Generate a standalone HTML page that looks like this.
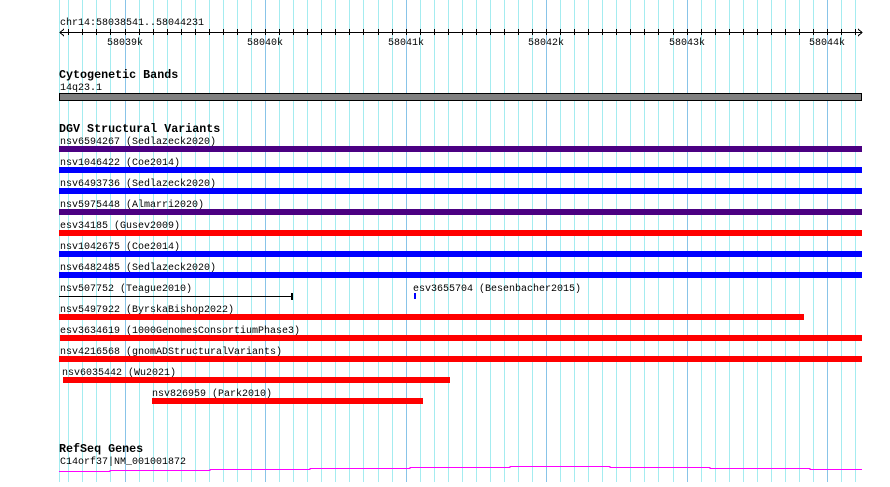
<!DOCTYPE html>
<html><head><style>
body{margin:0;background:#fff;}
svg text{font-family:"Liberation Mono","DejaVu Sans Mono",monospace;font-size:10px;fill:#000;}
svg text.b{font-weight:bold;font-size:11.7px;}
</style></head><body>
<svg width="890" height="482" xmlns="http://www.w3.org/2000/svg" shape-rendering="crispEdges">
<path stroke="#a4ecf0" stroke-width="1" fill="none" d="M59.5 0V482M68.5 0V482M82.5 0V482M96.5 0V482M110.5 0V482M139.5 0V482M153.5 0V482M167.5 0V482M181.5 0V482M195.5 0V482M209.5 0V482M223.5 0V482M237.5 0V482M251.5 0V482M279.5 0V482M293.5 0V482M307.5 0V482M321.5 0V482M335.5 0V482M349.5 0V482M363.5 0V482M378.5 0V482M392.5 0V482M420.5 0V482M434.5 0V482M448.5 0V482M462.5 0V482M476.5 0V482M490.5 0V482M504.5 0V482M518.5 0V482M532.5 0V482M560.5 0V482M574.5 0V482M588.5 0V482M602.5 0V482M616.5 0V482M630.5 0V482M644.5 0V482M658.5 0V482M673.5 0V482M701.5 0V482M715.5 0V482M729.5 0V482M743.5 0V482M757.5 0V482M771.5 0V482M785.5 0V482M799.5 0V482M813.5 0V482M841.5 0V482M855.5 0V482"/>
<path stroke="#88c4e8" stroke-width="1" fill="none" d="M125.5 0V482M265.5 0V482M406.5 0V482M546.5 0V482M687.5 0V482M827.5 0V482"/>
<path stroke="#000" stroke-width="1" fill="none" d="M68.5 29V35M82.5 29V35M96.5 29V35M110.5 29V35M125.5 29V35M139.5 29V35M153.5 29V35M167.5 29V35M181.5 29V35M195.5 29V35M209.5 29V35M223.5 29V35M237.5 29V35M251.5 29V35M265.5 29V35M279.5 29V35M293.5 29V35M307.5 29V35M321.5 29V35M335.5 29V35M349.5 29V35M363.5 29V35M378.5 29V35M392.5 29V35M406.5 29V35M420.5 29V35M434.5 29V35M448.5 29V35M462.5 29V35M476.5 29V35M490.5 29V35M504.5 29V35M518.5 29V35M532.5 29V35M546.5 29V35M560.5 29V35M574.5 29V35M588.5 29V35M602.5 29V35M616.5 29V35M630.5 29V35M644.5 29V35M658.5 29V35M673.5 29V35M687.5 29V35M701.5 29V35M715.5 29V35M729.5 29V35M743.5 29V35M757.5 29V35M771.5 29V35M785.5 29V35M799.5 29V35M813.5 29V35M827.5 29V35M841.5 29V35M855.5 29V35"/>
<text x="60" y="25">chr14:58038541..58044231</text>
<line x1="60" y1="32.5" x2="862" y2="32.5" stroke="#000"/>
<polyline points="64,29 60,32.5 64,36" fill="none" stroke="#000"/>
<polyline points="858,29 862,32.5 858,36" fill="none" stroke="#000"/>
<text x="125" y="45" text-anchor="middle">58039k</text>
<text x="265" y="45" text-anchor="middle">58040k</text>
<text x="406" y="45" text-anchor="middle">58041k</text>
<text x="546" y="45" text-anchor="middle">58042k</text>
<text x="687" y="45" text-anchor="middle">58043k</text>
<text x="827" y="45" text-anchor="middle">58044k</text>
<text class="b" x="59" y="78">Cytogenetic Bands</text>
<text x="60" y="90">14q23.1</text>
<rect x="59.5" y="93.5" width="802" height="7" fill="#808080" stroke="#000" stroke-width="1"/>
<text class="b" x="59" y="132">DGV Structural Variants</text>
<text x="60" y="144">nsv6594267 (Sedlazeck2020)</text>
<rect x="59" y="146" width="803" height="6" fill="#4b0082"/>
<text x="60" y="165">nsv1046422 (Coe2014)</text>
<rect x="59" y="167" width="803" height="6" fill="#0000ff"/>
<text x="60" y="186">nsv6493736 (Sedlazeck2020)</text>
<rect x="59" y="188" width="803" height="6" fill="#0000ff"/>
<text x="60" y="207">nsv5975448 (Almarri2020)</text>
<rect x="59" y="209" width="803" height="6" fill="#4b0082"/>
<text x="60" y="228">esv34185 (Gusev2009)</text>
<rect x="59" y="230" width="803" height="6" fill="#ff0000"/>
<text x="60" y="249">nsv1042675 (Coe2014)</text>
<rect x="59" y="251" width="803" height="6" fill="#0000ff"/>
<text x="60" y="270">nsv6482485 (Sedlazeck2020)</text>
<rect x="59" y="272" width="803" height="6" fill="#0000ff"/>
<text x="60" y="291">nsv507752 (Teague2010)</text>
<line x1="59" y1="296.5" x2="292" y2="296.5" stroke="#000"/>
<rect x="291" y="293" width="2" height="7" fill="#000"/>
<text x="413" y="291">esv3655704 (Besenbacher2015)</text>
<rect x="414" y="293" width="2" height="6" fill="#0000ff"/>
<text x="60" y="312">nsv5497922 (ByrskaBishop2022)</text>
<rect x="59" y="314" width="745" height="6" fill="#ff0000"/>
<text x="60" y="333">esv3634619 (1000GenomesConsortiumPhase3)</text>
<rect x="60" y="335" width="802" height="6" fill="#ff0000"/>
<text x="60" y="354">nsv4216568 (gnomADStructuralVariants)</text>
<rect x="59" y="356" width="803" height="6" fill="#ff0000"/>
<text x="62" y="375">nsv6035442 (Wu2021)</text>
<rect x="63" y="377" width="387" height="6" fill="#ff0000"/>
<text x="152" y="396">nsv826959 (Park2010)</text>
<rect x="152" y="398" width="271" height="6" fill="#ff0000"/>
<text class="b" x="59" y="452">RefSeq Genes</text>
<text x="60" y="464">C14orf37|NM_001001872</text>
<polyline points="59,471.5 110,471.5 110,470.5 210,470.5 210,469.5 310,469.5 310,468.5 410,468.5 410,467.5 510,467.5 510,466.5 610,466.5 610,467.5 710,467.5 710,468.5 810,468.5 810,469.5 862,469.5" fill="none" stroke="#ff00ff"/>
</svg>
</body></html>
